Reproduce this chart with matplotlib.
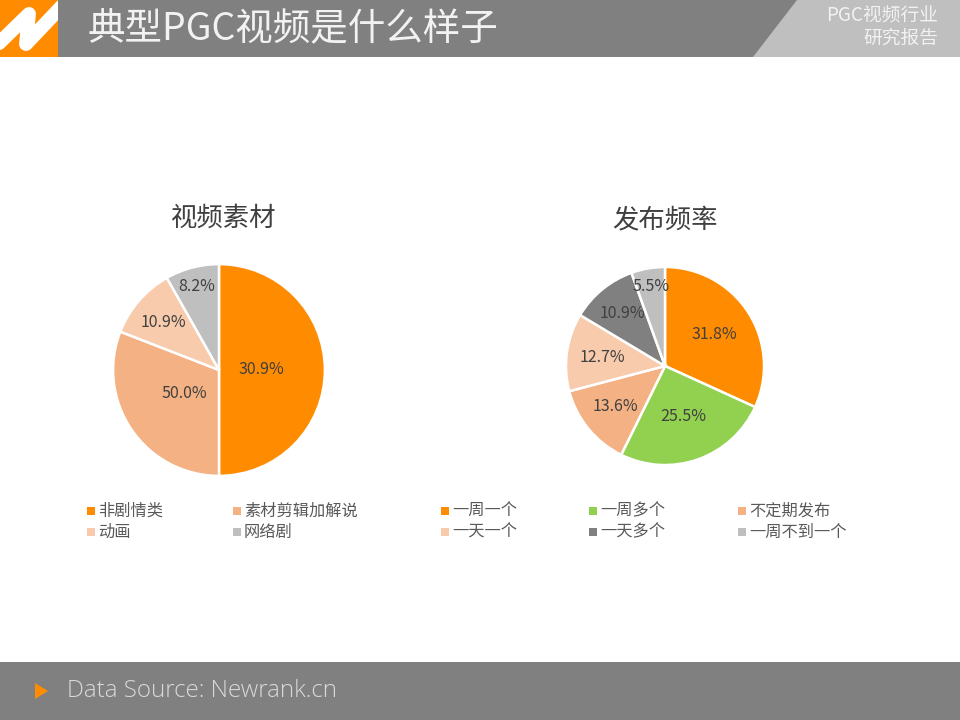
import matplotlib
matplotlib.use('Agg')
import matplotlib.pyplot as plt
import numpy as np
from matplotlib.patches import Rectangle, Polygon

plt.rcParams['font.family'] = ['Noto Sans CJK SC', 'DejaVu Sans']

# data
title = '典型PGC视频是什么样子'
subtitle = 'PGC视频行业\n研究报告'
source = 'Data Source: Newrank.cn'

left_title = '视频素材'
left_cats = ['非剧情类', '素材剪辑加解说', '动画', '网络剧']
left_vals = [50.0, 30.9, 10.9, 8.2]
left_texts = ['30.9%', '50.0%', '10.9%', '8.2%']

right_title = '发布频率'
right_cats = ['一周一个', '一周多个', '不定期发布', '一天一个', '一天多个', '一周不到一个']
right_vals = [31.8, 25.5, 13.6, 12.7, 10.9, 5.5]
right_texts = ['31.8%', '25.5%', '13.6%', '12.7%', '10.9%', '5.5%']

# style
ORANGE = '#FF8C00'
left_colors = [ORANGE, '#F4B183', '#F8CBAD', '#BFBFBF']
right_colors = [ORANGE, '#92D050', '#F4B183', '#F8CBAD', '#808080', '#BFBFBF']
left_dist = [0.40, 0.40, 0.69, 0.82]
right_dist = [0.59, 0.54, 0.64, 0.64, 0.68, 0.82]

W, H = 960, 720
fig = plt.figure(figsize=(9.6, 7.2), dpi=100)
fig.patch.set_facecolor('white')

# background / decoration axes in pixel coords
bg = fig.add_axes([0, 0, 1, 1], zorder=0)
bg.set_xlim(0, W)
bg.set_ylim(H, 0)
bg.axis('off')

bg.add_patch(Rectangle((0, 0), W, 57, color='#808080', lw=0))
bg.add_patch(Polygon([(797, 0), (W, 0), (W, 57), (753, 57)], closed=True, color='#BFBFBF', lw=0))
logo = Rectangle((0, 0), 58, 57, color=ORANGE, lw=0)
bg.add_patch(logo)
zig, = bg.plot([-6, 29, 26, 62], [48, 14, 44, 6], color='white', lw=10,
               solid_capstyle='round', solid_joinstyle='round')
zig.set_clip_path(logo)
bg.text(88, 30, title, color='#F2F2F2', fontsize=27, fontweight='light',
        va='center', ha='left')
bg.text(938, 27, subtitle, color='#F2F2F2', fontsize=13.5, fontweight='light',
        va='center', ha='right', linespacing=1.1)

bg.add_patch(Rectangle((0, 662), W, 58, color='#808080', lw=0))
bg.add_patch(Polygon([(35, 683), (48, 691), (35, 699)], closed=True, color=ORANGE, lw=0))
bg.text(67, 691, source, color='#D9D9D9', fontsize=17.4, fontweight='light',
        va='center', ha='left', family=['Open Sans', 'DejaVu Sans'])


def draw_pie(cx, cy, r, vals, colors, texts, dists, ptitle, tx, ty):
    ax = fig.add_axes([(cx - r) / W, (H - cy - r) / H, 2 * r / W, 2 * r / H], zorder=2)
    wedges, _ = ax.pie(vals, colors=colors, startangle=90, counterclock=False,
                       radius=1, wedgeprops=dict(edgecolor='white', linewidth=1.8))
    ax.set_xlim(-1.02, 1.02)
    ax.set_ylim(-1.02, 1.02)
    ax.axis('off')
    for w, t, d in zip(wedges, texts, dists):
        ang = np.deg2rad((w.theta1 + w.theta2) / 2)
        ax.text(d * np.cos(ang), d * np.sin(ang), t, ha='center', va='center',
                fontsize=11.5, color='#404040')
    bg.text(tx, ty, ptitle, ha='center', va='center', fontsize=19, color='#404040')


draw_pie(219, 370, 108, left_vals, left_colors, left_texts, left_dist, left_title, 224, 218)
draw_pie(665, 366, 101, right_vals, right_colors, right_texts, right_dist, right_title, 665, 221)


def draw_legend(cats, colors, xs, ys):
    for i, (c, col) in enumerate(zip(cats, colors)):
        x = xs[i % len(xs)]
        y = ys[i // len(xs)]
        bg.add_patch(Rectangle((x, y - 4), 8, 8, color=col, lw=0))
        bg.text(x + 11, y, c, ha='left', va='center', fontsize=11.7, color='#595959')


draw_legend(left_cats, left_colors, [87, 233], [511, 532])
draw_legend(right_cats, right_colors, [441, 589, 738], [511, 532])

fig.savefig('out.png', dpi=100)
